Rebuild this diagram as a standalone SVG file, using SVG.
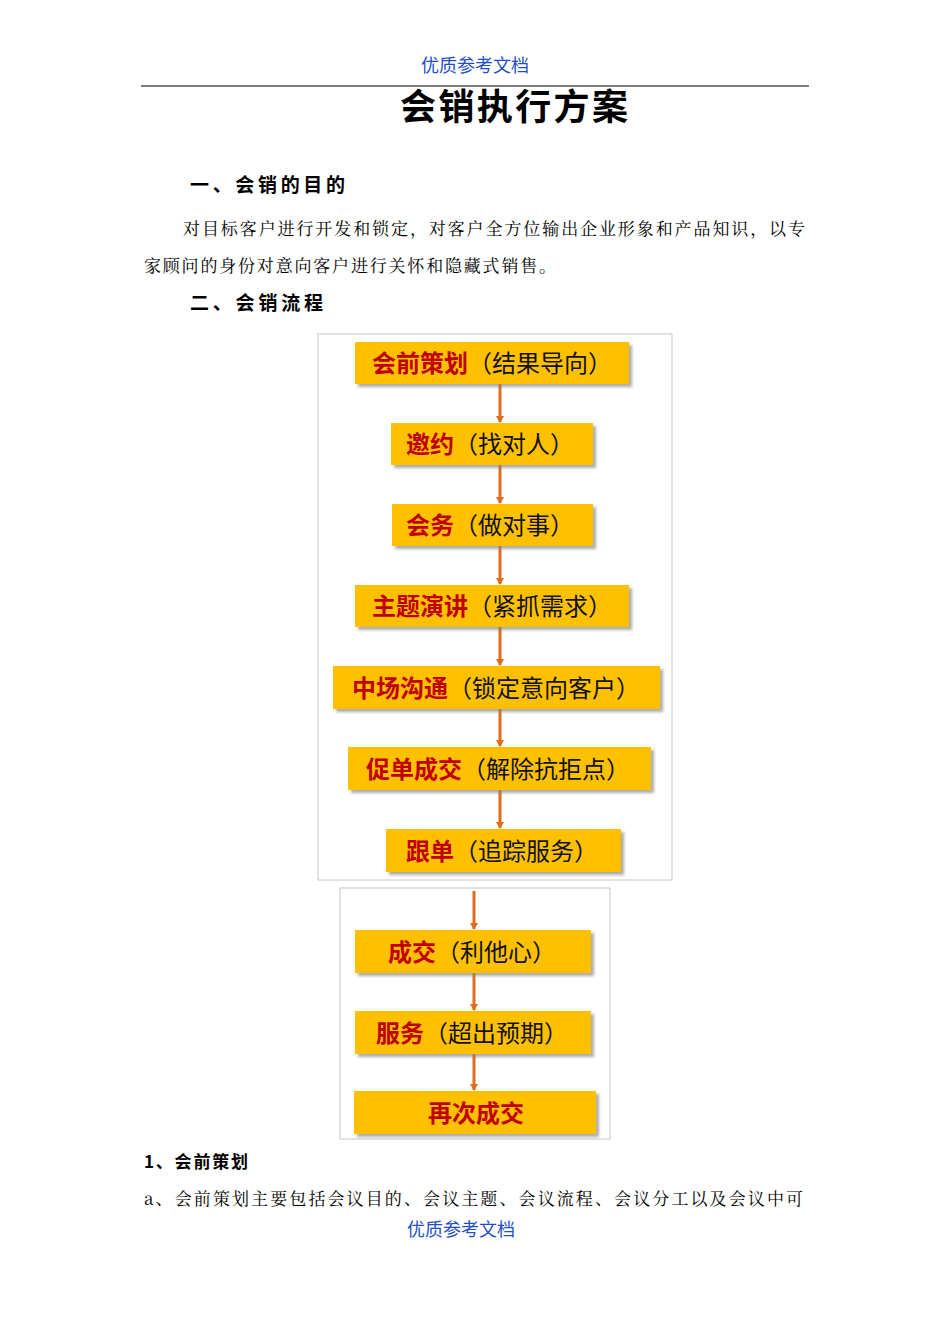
<svg xmlns="http://www.w3.org/2000/svg" width="950" height="1344" viewBox="0 0 950 1344">
<style>
.hdr{font-family:"Noto Sans CJK SC",sans-serif;fill:#1f4ec8;font-size:18px}
.t{font-family:"Noto Sans CJK SC",sans-serif;fill:#000}
.s{font-family:"Noto Serif CJK SC","Noto Sans CJK SC",serif;fill:#000}
.box{fill:#ffc000;filter:url(#sh)}
.k{font-family:"Noto Sans CJK SC",sans-serif;font-size:24px;font-weight:bold;fill:#c00000}
.p{font-family:"Noto Sans CJK SC",sans-serif;font-size:24px;fill:#111}
.c{stroke:#e06c1c;stroke-width:3;fill:none;marker-end:url(#ah)}
.fr{fill:#fff;stroke:#c8c8c8;stroke-width:1}
</style>
<defs>
<filter id="sh" x="-5%" y="-10%" width="115%" height="140%"><feDropShadow dx="3" dy="3" stdDeviation="1.5" flood-color="#888" flood-opacity="0.7"/></filter>
<marker id="ah" markerWidth="8" markerHeight="8" refX="6" refY="4" orient="auto" markerUnits="userSpaceOnUse"><path d="M0,0 L7,4 L0,8 Z" fill="#e06c1c"/></marker>
</defs>
<rect width="950" height="1344" fill="#fff"/>
<text class="hdr" x="475" y="72" text-anchor="middle">优质参考文档</text>
<line x1="141" y1="86" x2="809" y2="86" stroke="#000" stroke-width="1"/>
<text class="t" x="400" y="120" font-size="36" font-weight="bold" textLength="228">会销执行方案</text>
<text class="t" x="190" y="192" font-size="19" font-weight="bold" textLength="155">一、会销的目的</text>
<text class="s" x="183" y="235" font-size="17" textLength="622">对目标客户进行开发和锁定，对客户全方位输出企业形象和产品知识，以专</text>
<text class="s" x="144" y="272" font-size="17" textLength="412">家顾问的身份对意向客户进行关怀和隐藏式销售。</text>
<text class="t" x="190" y="310" font-size="19" font-weight="bold" textLength="133">二、会销流程</text>
<rect class="fr" x="318" y="334" width="354" height="546"/>
<rect class="fr" x="340" y="888" width="270" height="251"/>
<g id="connectors">
<line class="c" x1="500" y1="384" x2="500" y2="422"/>
<line class="c" x1="500" y1="465" x2="500" y2="503"/>
<line class="c" x1="500" y1="546" x2="500" y2="584"/>
<line class="c" x1="500" y1="627" x2="500" y2="665"/>
<line class="c" x1="500" y1="709" x2="500" y2="746"/>
<line class="c" x1="500" y1="790" x2="500" y2="828"/>
<line class="c" x1="474" y1="891" x2="474" y2="929"/>
<line class="c" x1="474" y1="973" x2="474" y2="1010"/>
<line class="c" x1="474" y1="1054" x2="474" y2="1090"/>
</g>
<g id="n1"><rect class="box" x="355" y="342" width="274" height="42"/><text x="492" y="372" text-anchor="middle"><tspan class="k">会前策划</tspan><tspan class="p">（结果导向）</tspan></text></g>
<g id="n2"><rect class="box" x="391" y="423" width="202" height="42"/><text x="490" y="453" text-anchor="middle"><tspan class="k">邀约</tspan><tspan class="p">（找对人）</tspan></text></g>
<g id="n3"><rect class="box" x="392" y="504" width="201" height="42"/><text x="490" y="534" text-anchor="middle"><tspan class="k">会务</tspan><tspan class="p">（做对事）</tspan></text></g>
<g id="n4"><rect class="box" x="355" y="585" width="274" height="42"/><text x="492" y="615" text-anchor="middle"><tspan class="k">主题演讲</tspan><tspan class="p">（紧抓需求）</tspan></text></g>
<g id="n5"><rect class="box" x="333" y="666" width="327" height="43"/><text x="496" y="697" text-anchor="middle"><tspan class="k">中场沟通</tspan><tspan class="p">（锁定意向客户）</tspan></text></g>
<g id="n6"><rect class="box" x="348" y="747" width="303" height="43"/><text x="498" y="778" text-anchor="middle"><tspan class="k">促单成交</tspan><tspan class="p">（解除抗拒点）</tspan></text></g>
<g id="n7"><rect class="box" x="386" y="829" width="235" height="43"/><text x="502" y="860" text-anchor="middle"><tspan class="k">跟单</tspan><tspan class="p">（追踪服务）</tspan></text></g>
<g id="n8"><rect class="box" x="355" y="930" width="236" height="43"/><text x="472" y="961" text-anchor="middle"><tspan class="k">成交</tspan><tspan class="p">（利他心）</tspan></text></g>
<g id="n9"><rect class="box" x="355" y="1011" width="236" height="43"/><text x="472" y="1042" text-anchor="middle"><tspan class="k">服务</tspan><tspan class="p">（超出预期）</tspan></text></g>
<g id="n10"><rect class="box" x="354" y="1091" width="242" height="43"/><text x="476" y="1122" text-anchor="middle" class="k">再次成交</text></g>
<text class="t" x="144" y="1168" font-size="17" font-weight="bold" textLength="104">1、会前策划</text>
<text class="s" x="144" y="1205" font-size="17" textLength="659">a、会前策划主要包括会议目的、会议主题、会议流程、会议分工以及会议中可</text>
<text class="hdr" x="461" y="1236" text-anchor="middle">优质参考文档</text>
</svg>
